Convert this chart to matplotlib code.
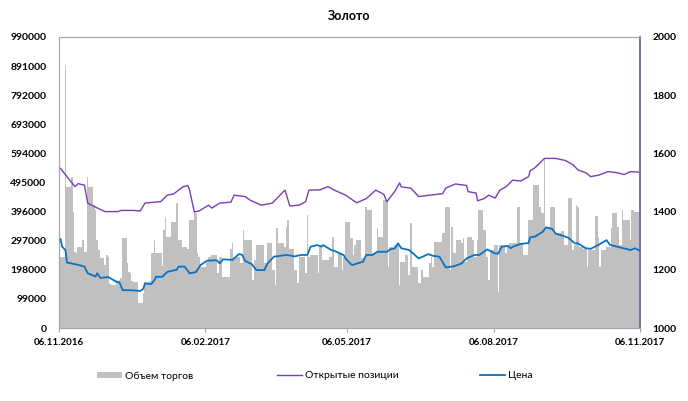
import matplotlib
matplotlib.use("Agg")
import matplotlib.pyplot as plt
import matplotlib.dates as mdates
from matplotlib.patches import Patch
from matplotlib.lines import Line2D
import numpy as np
import pandas as pd

plt.rcParams["font.family"] = ["Lato", "DejaVu Sans"]

# trading volume, thousands of contracts, one value per trading day 07.11.2016 .. 06.11.2017
vol_k = [
    243, 243, 240, 891, 481, 515, 396, 260, 255, 277,
    299, 260, 260, 513, 480, 420, 400, 300, 265, 238,
    215, 248, 240, 150, 145, 165, 160, 165, 170, 306,
    220, 190, 187, 160, 158, 85, 85, 85, 120, 158,
    160, 255, 255, 299, 255, 255, 210, 333, 379, 310,
    362, 362, 362, 425, 299, 277, 277, 277, 270, 367,
    396, 390, 255, 242, 208, 208, 226, 242, 242, 248,
    248, 186, 242, 242, 175, 175, 175, 270, 289, 242,
    240, 220, 220, 333, 299, 299, 299, 163, 231, 282,
    282, 282, 220, 220, 289, 197, 197, 146, 340, 289,
    289, 277, 345, 367, 270, 197, 197, 153, 242, 242,
    186, 384, 242, 248, 248, 248, 186, 277, 277, 231,
    231, 240, 240, 310, 208, 255, 255, 197, 242, 362,
    306, 306, 248, 282, 300, 237, 237, 237, 413, 400,
    255, 255, 255, 340, 310, 435, 435, 435, 208, 277,
    282, 282, 282, 146, 226, 248, 248, 180, 356, 208,
    208, 153, 153, 197, 175, 175, 220, 240, 208, 294,
    294, 294, 323, 323, 413, 197, 345, 255, 255, 299,
    289, 306, 226, 226, 310, 299, 240, 240, 299, 401,
    333, 333, 240, 163, 265, 282, 282, 124, 282, 282,
    255, 282, 289, 289, 289, 413, 413, 289, 289, 250,
    367, 367, 367, 486, 486, 413, 390, 390, 578, 345,
    413, 413, 413, 323, 323, 330, 330, 282, 282, 442,
    265, 282, 418, 413, 277, 270, 270, 208, 265,
    265, 381, 381, 310, 208, 265, 277, 277, 277, 340,
    390, 345, 282, 282, 401, 367, 367, 300, 401, 401, 396, 396,
]

# open interest, thousands
oi_dates = [
    "2016-11-07", "2016-11-11", "2016-11-16", "2016-11-18", "2016-11-22", "2016-11-24",
    "2016-11-29", "2016-12-05", "2016-12-13", "2016-12-15", "2016-12-23", "2016-12-27",
    "2016-12-30", "2017-01-09", "2017-01-13", "2017-01-17", "2017-01-23", "2017-01-26",
    "2017-01-27", "2017-01-30", "2017-02-02", "2017-02-08", "2017-02-10", "2017-02-15",
    "2017-02-22", "2017-02-24", "2017-03-03", "2017-03-06", "2017-03-13", "2017-03-20",
    "2017-03-27", "2017-03-28", "2017-03-31", "2017-04-06", "2017-04-10", "2017-04-12",
    "2017-04-19", "2017-04-24", "2017-04-28", "2017-05-05", "2017-05-12", "2017-05-18",
    "2017-05-24", "2017-05-29", "2017-05-31", "2017-06-05", "2017-06-08", "2017-06-09",
    "2017-06-15", "2017-06-20", "2017-06-27", "2017-07-05", "2017-07-07", "2017-07-13",
    "2017-07-20", "2017-07-21", "2017-07-26", "2017-07-27", "2017-07-31", "2017-08-03",
    "2017-08-07", "2017-08-10", "2017-08-14", "2017-08-18", "2017-08-23", "2017-08-28",
    "2017-08-29", "2017-09-01", "2017-09-07", "2017-09-14", "2017-09-20", "2017-09-25",
    "2017-09-28", "2017-10-03", "2017-10-06", "2017-10-11", "2017-10-17", "2017-10-23",
    "2017-10-27", "2017-10-31", "2017-11-06",
]
oi_k = [
    543, 515, 481, 491, 486, 425,
    411, 396, 396, 400, 400, 398,
    425, 430, 452, 456, 481, 484,
    470, 395, 398, 418, 408, 425,
    428, 452, 447, 435, 418, 425,
    464, 469, 415, 418, 430, 469,
    470, 481, 469, 452, 426, 440,
    469, 455, 430, 465, 494, 480,
    476, 447, 452, 457, 476, 490,
    485, 464, 459, 433, 440, 452,
    442, 469, 481, 503, 500, 515,
    535, 545, 577, 577, 570, 555,
    538, 528, 515, 520, 532, 528,
    522, 532, 530,
]

# gold price, right axis
px_dates = [
    "2016-11-07", "2016-11-08", "2016-11-10", "2016-11-11", "2016-11-18", "2016-11-22",
    "2016-11-24", "2016-11-29", "2016-11-30", "2016-12-02", "2016-12-07", "2016-12-12",
    "2016-12-14", "2016-12-16", "2016-12-21", "2016-12-27", "2016-12-29", "2016-12-30",
    "2017-01-03", "2017-01-05", "2017-01-06", "2017-01-10", "2017-01-13", "2017-01-19",
    "2017-01-20", "2017-01-24", "2017-01-27", "2017-01-31", "2017-02-03", "2017-02-07",
    "2017-02-13", "2017-02-15", "2017-02-17", "2017-02-23", "2017-02-27", "2017-03-01",
    "2017-03-03", "2017-03-07", "2017-03-10", "2017-03-15", "2017-03-17", "2017-03-21",
    "2017-03-29", "2017-04-03", "2017-04-07", "2017-04-11", "2017-04-13", "2017-04-17",
    "2017-04-20", "2017-04-21", "2017-04-26", "2017-04-28", "2017-05-04", "2017-05-05",
    "2017-05-09", "2017-05-16", "2017-05-18", "2017-05-22", "2017-05-25", "2017-05-31",
    "2017-06-02", "2017-06-05", "2017-06-07", "2017-06-09", "2017-06-14", "2017-06-20",
    "2017-06-26", "2017-06-29", "2017-07-03", "2017-07-07", "2017-07-12", "2017-07-17",
    "2017-07-20", "2017-07-25", "2017-07-28", "2017-08-02", "2017-08-07", "2017-08-09",
    "2017-08-11", "2017-08-15", "2017-08-17", "2017-08-18", "2017-08-23", "2017-08-28",
    "2017-08-29", "2017-09-01", "2017-09-06", "2017-09-08", "2017-09-12", "2017-09-14",
    "2017-09-18", "2017-09-22", "2017-09-26", "2017-09-28", "2017-10-03", "2017-10-06",
    "2017-10-11", "2017-10-16", "2017-10-18", "2017-10-23", "2017-10-26", "2017-10-31",
    "2017-11-03", "2017-11-06",
]
px = [
    1305, 1279, 1268, 1225, 1217, 1211,
    1188, 1177, 1188, 1172, 1175, 1159,
    1157, 1130, 1130, 1127, 1135, 1153,
    1151, 1165, 1176, 1176, 1193, 1200,
    1211, 1211, 1188, 1192, 1217, 1231,
    1233, 1222, 1236, 1234, 1254, 1252,
    1230, 1220, 1199, 1199, 1222, 1245,
    1251, 1246, 1251, 1251, 1279, 1285,
    1280, 1285, 1268, 1265, 1250, 1239,
    1216, 1228, 1251, 1251, 1262, 1262,
    1270, 1274, 1291, 1274, 1268, 1239,
    1254, 1248, 1245, 1208, 1212, 1222,
    1239, 1251, 1251, 1270, 1256, 1256,
    1279, 1282, 1274, 1279, 1289, 1292,
    1312, 1314, 1331, 1346, 1340, 1324,
    1318, 1310, 1291, 1291, 1274, 1272,
    1286, 1302, 1286, 1279, 1275, 1268,
    1274, 1265,
]

tick_dates = ["2016-11-06", "2017-02-06", "2017-05-06", "2017-08-06", "2017-11-06"]

GREY_BAR = "#c0c0c0"
PURPLE = "#7a3db8"
BLUE = "#0a72c4"
SPINE = "#a6a6a6"

days = pd.bdate_range("2016-11-07", "2017-11-06")
vol = np.array(vol_k) * 1000
# each bar runs to the next trading day so the area stays filled over weekends
edges = mdates.date2num(days)
widths = np.append(np.diff(edges), 1.0)

fig = plt.figure(figsize=(6.88, 4.01), dpi=100)
ax = fig.add_axes([59 / 688, 1 - 328 / 401, (640 - 59) / 688, (328 - 37) / 401])
ax2 = ax.twinx()

ax.bar(edges - 0.5, vol, width=widths, align="edge", color=GREY_BAR, linewidth=0, zorder=1)
ax.plot(pd.to_datetime(oi_dates), np.array(oi_k) * 1000, color=PURPLE, linewidth=1.0, zorder=3)
ax2.plot(pd.to_datetime(px_dates), px, color=BLUE, linewidth=1.3, zorder=3)

ax.set_xlim(pd.Timestamp("2016-11-06"), pd.Timestamp("2017-11-06"))
ax.set_ylim(0, 990000)
ax.set_yticks(np.arange(0, 990001, 99000))
ax2.set_ylim(1000, 2000)
ax2.set_yticks(np.arange(1000, 2001, 200))

ax.set_xticks(pd.to_datetime(tick_dates))
ax.xaxis.set_major_formatter(mdates.DateFormatter("%d.%m.%Y"))

for a in (ax, ax2):
    for side in ("left", "top", "bottom"):
        a.spines[side].set_color(SPINE)
    a.spines["right"].set_color("#7f6a9e")
    a.spines["right"].set_linewidth(1.2)
    a.tick_params(axis="y", length=0, labelsize=7.5, pad=9)
    for lab in a.get_yticklabels():
        lab.set_fontweight("bold")
ax.tick_params(axis="x", length=3, color=SPINE, labelsize=7, pad=4)
for lab in ax.get_xticklabels():
    lab.set_fontweight("bold")

fig.text(349 / 688, 1 - 16 / 401, "Золото", ha="center", va="center", fontsize=9, fontweight="bold")

legend_items = [
    (Patch(facecolor=GREY_BAR, edgecolor="none"), "Объем торгов", 97),
    (Line2D([], [], color=PURPLE, linewidth=1.0), "Открытые позиции", 277),
    (Line2D([], [], color=BLUE, linewidth=1.3), "Цена", 480),
]
for handle, label, x0 in legend_items:
    fig.legend([handle], [label], loc="center left", bbox_to_anchor=(x0 / 688, 1 - 376 / 401),
               frameon=False, fontsize=7.5, handlelength=2.4, handleheight=0.6,
               handletextpad=0.3, borderpad=0, borderaxespad=0)

fig.savefig("out.png", dpi=100)
